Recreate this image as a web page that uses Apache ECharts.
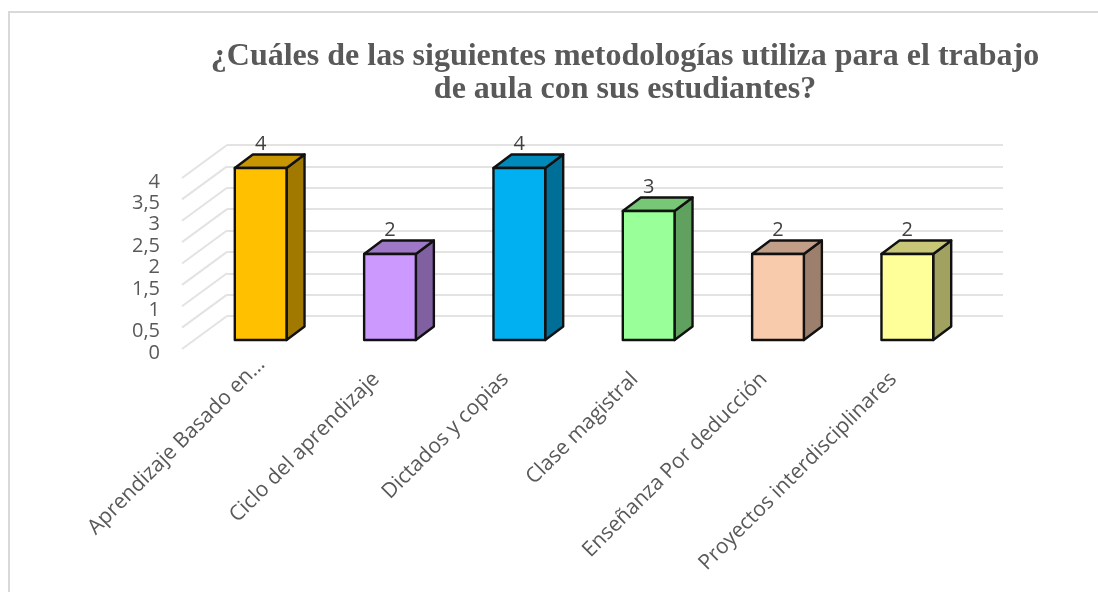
<!DOCTYPE html>
<html>
<head>
<meta charset="utf-8">
<script src="https://cdn.jsdelivr.net/npm/echarts@6/dist/echarts.min.js"></script>
<style>
html, body { margin: 0; padding: 0; background: #fff; }
#main { width: 1098px; height: 592px; }
</style>
</head>
<body>
<div id="main"></div>
<script type="text/javascript">
var categories = ['Aprendizaje Basado en…', 'Ciclo del aprendizaje', 'Dictados y copias', 'Clase magistral', 'Enseñanza Por deducción', 'Proyectos interdisciplinares'];
var values = [4, 2, 4, 3, 2, 2];
var barColors = ['#FFC000', '#CC99FF', '#00B0F0', '#99FF99', '#F8CBAD', '#FFFF99'];
var yTicks = [0, 0.5, 1, 1.5, 2, 2.5, 3, 3.5, 4];
var titleText = '¿Cuáles de las siguientes metodologías utiliza para el trabajo\nde aula con sus estudiantes?';

var textColor = '#595959';
var wallDx = 45, wallDy = -33;   // perspectiva de la pared
var barDx = 18, barDy = -13.5;   // profundidad de cada barra
var labelGap = 4;                // las etiquetas del eje y quedan algo por debajo de la línea

var chart = echarts.init(document.getElementById('main'), null, { renderer: 'canvas' });

function face(points, fill) {
    return {
        type: 'polygon',
        shape: { points: points },
        style: { fill: fill, stroke: '#111', lineWidth: 2.4, lineJoin: 'round' }
    };
}

function darken(color, t) {
    return echarts.color.lerp(t, [color, '#000000']);
}

function renderBar(params, api) {
    var i = api.value(0);
    var top = api.coord([i, api.value(1)]);
    var base = api.coord([i, 0]);
    var half = api.size([1, 0])[0] * 0.2;
    var l = top[0] - half, r = top[0] + half;
    var color = barColors[i];
    return {
        type: 'group',
        children: [
            face([[r, base[1]], [r + barDx, base[1] + barDy], [r + barDx, top[1] + barDy], [r, top[1]]], darken(color, 0.37)),
            face([[l, top[1]], [l + barDx, top[1] + barDy], [r + barDx, top[1] + barDy], [r, top[1]]], darken(color, 0.22)),
            face([[l, top[1]], [r, top[1]], [r, base[1]], [l, base[1]]], color),
            {
                type: 'text',
                style: {
                    x: top[0], y: top[1] - 24,
                    text: String(api.value(1)),
                    fill: '#404040', font: '20px "Open Sans"',
                    align: 'center', verticalAlign: 'middle'
                }
            }
        ]
    };
}

function renderWallLine(params, api) {
    var p = api.coord([0, api.value(0)]);
    var x0 = params.coordSys.x;
    var y0 = p[1] - labelGap;
    return {
        type: 'line',
        shape: { x1: x0, y1: y0, x2: x0 + wallDx, y2: y0 + wallDy },
        style: { stroke: '#E3E3E3', lineWidth: 2 }
    };
}

// la primera etiqueta (recortada) termina más cerca de la barra
var categoryData = categories.map(function (name, i) {
    return i === 0 ? { value: name, textStyle: { padding: [0, -21, 0, 0] } } : name;
});

var option = {
    animation: false,
    backgroundColor: '#fff',
    title: {
        text: titleText,
        left: 620, top: 35,
        textAlign: 'center',
        textStyle: {
            fontFamily: '"Liberation Serif"', fontSize: 32, fontWeight: 'bold',
            color: textColor, lineHeight: 33
        }
    },
    graphic: [{
        type: 'polyline',
        shape: { points: [[9, 592], [9, 12], [1098, 12]] },
        style: { fill: 'none', stroke: '#D9D9D9', lineWidth: 2 },
        silent: true
    }],
    grid: [
        { left: 182, top: 182, width: 776, height: 171 },   // frente: etiquetas de los ejes
        { left: 227, top: 145, width: 776, height: 171 },   // pared del fondo
        { left: 196, top: 168, width: 776, height: 172 }    // plano de las barras
    ],
    xAxis: [
        {
            gridIndex: 0, type: 'category', data: categoryData,
            axisLine: { show: false }, axisTick: { show: false },
            axisLabel: {
                interval: 0, rotate: 45, margin: 23,
                color: textColor, fontFamily: '"Open Sans"', fontSize: 21
            }
        },
        { gridIndex: 1, type: 'category', data: categories, show: false },
        { gridIndex: 2, type: 'category', data: categories, show: false }
    ],
    yAxis: [
        {
            gridIndex: 0, type: 'value', min: 0, max: 4, interval: 0.5,
            axisLine: { show: false }, axisTick: { show: false }, splitLine: { show: false },
            axisLabel: {
                margin: 22, color: textColor, fontFamily: '"Open Sans"', fontSize: 20,
                formatter: function (v) { return String(v).replace('.', ','); }
            }
        },
        {
            gridIndex: 1, type: 'value', min: 0, max: 4, interval: 0.5,
            axisLine: { show: false }, axisTick: { show: false }, axisLabel: { show: false },
            splitLine: { show: true, lineStyle: { color: '#E3E3E3', width: 2 } }
        },
        { gridIndex: 2, type: 'value', min: 0, max: 4, interval: 0.5, show: false }
    ],
    series: [
        {
            type: 'custom', xAxisIndex: 0, yAxisIndex: 0,
            renderItem: renderWallLine, silent: true, clip: false,
            encode: { y: 0 },
            data: yTicks.map(function (v) { return [v]; })
        },
        {
            type: 'custom', xAxisIndex: 2, yAxisIndex: 2,
            renderItem: renderBar, silent: true, clip: false, z: 5,
            encode: { x: 0, y: 1 },
            data: values.map(function (v, i) { return [i, v]; })
        }
    ]
};

chart.setOption(option);
</script>
</body>
</html>
